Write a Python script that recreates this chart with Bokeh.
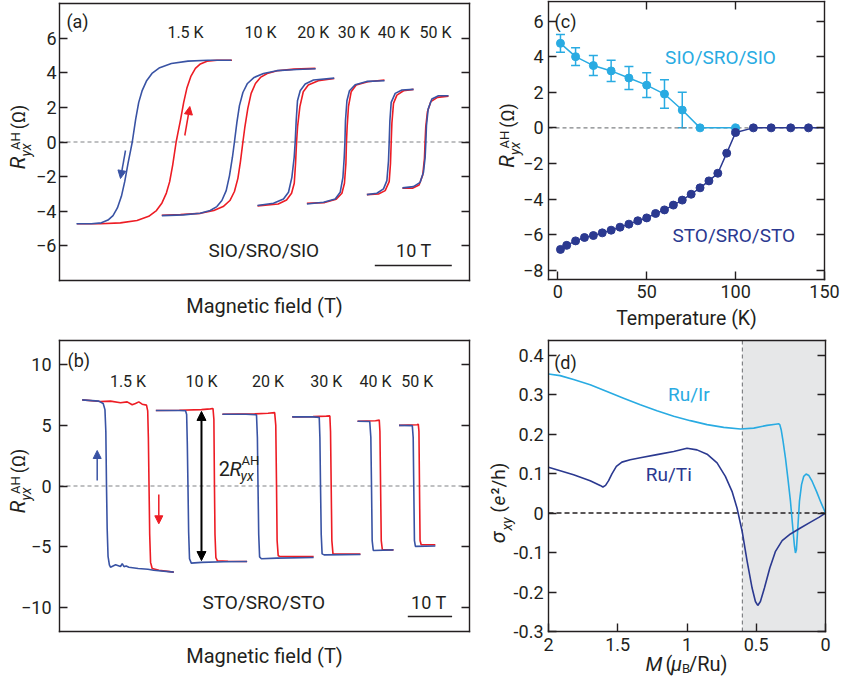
import math
from bokeh.plotting import figure
from bokeh.models import (Range1d, LinearAxis, FixedTicker, Label, Arrow, NormalHead,
                          TeeHead, Whisker, ColumnDataSource, CustomLabelingPolicy)
from bokeh.layouts import row, column
from bokeh.embed import file_html
from bokeh.resources import INLINE

FONT = "Roboto"
INK = "#231f20"
RED = "#ed1c24"
BLUE = "#3953a4"
CYAN = "#29abe2"
NAVY = "#2b3990"
DASH_GREY = "#808285"
SHADE = "#e6e7e8"

TEMP_LABELS = ["1.5 K", "10 K", "20 K", "30 K", "40 K", "50 K"]

# ---------------- (a) SIO/SRO/SIO anomalous Hall loops ----------------
# field-down branch of each loop; field is relative to the loop centre (T)
A_CENTERS = [12.3, 23.27, 30.7, 37.17, 42.95, 47.53]
A_H = [
    [-10.1, -8.16, -6.86, -6.0, -5.35, -4.78, -4.26, -3.83, -3.4, -3.05, -2.85,
     -2.4, -2.01, -1.58, -1.01, -0.29, 0.71, 2.23, 4.39, 6.99, 10.03],
    [-9.97, -7.17, -5.0, -3.7, -2.83, -2.18, -1.62, -1.19, -0.81, -0.55, -0.23,
     0.1, 0.55, 1.14, 2.01, 3.22, 4.96, 7.56, 10.0],
    [-4.99, -2.91, -1.61, -0.96, -0.52, -0.22, -0.09, 0.04, 0.21, 0.56, 1.21, 2.29, 4.98],
    [-5.04, -2.88, -1.36, -0.71, -0.36, -0.19, -0.1, -0.03, 0.16, 0.49, 1.23, 2.74, 5.04],
    [-3.03, -1.73, -0.87, -0.43, -0.22, -0.13, -0.04, 0.13, 0.65, 1.52, 3.03],
    [-2.99, -1.56, -0.69, -0.26, -0.04, 0.05, 0.13, 0.35, 0.83, 1.69, 2.99],
]
A_R = [
    [-4.72, -4.72, -4.67, -4.51, -4.25, -3.81, -3.14, -2.29, -1.24, -0.45, 0.0,
     1.33, 2.29, 2.95, 3.52, 3.96, 4.29, 4.53, 4.67, 4.72, 4.72],
    [-4.25, -4.21, -4.12, -3.96, -3.73, -3.38, -2.81, -1.94, -0.88, 0.0, 1.13,
     2.1, 2.86, 3.38, 3.73, 3.96, 4.12, 4.19, 4.23],
    [-3.67, -3.54, -3.29, -2.9, -2.04, -0.88, 0.0, 1.23, 2.38, 2.96, 3.35, 3.58, 3.69],
    [-3.58, -3.48, -3.29, -2.9, -2.04, -0.88, 0.0, 1.23, 2.38, 2.96, 3.31, 3.5, 3.54],
    [-3.04, -2.96, -2.71, -2.23, -1.08, 0.0, 1.23, 2.29, 2.81, 3.0, 3.04],
    [-2.65, -2.58, -2.33, -1.75, -0.88, 0.0, 0.94, 1.9, 2.48, 2.67, 2.67],
]

# ---------------- (b) STO/SRO/STO anomalous Hall loops ----------------
B_CENTERS = [15.46, 32.05, 47.07, 60.23, 71.33, 80.74]
B_BLUE_H = [
    [-10.34, -6.6, -5.6, -5.2, -5.0, -4.85, -4.7, -4.5, -4.2, -3.95, -2.8, -1.69,
     -1.3, -0.9, -0.4, 0.2, 2.3, 4.5, 5.8, 10.34],
    [-10.3, -5.0, -3.6, -3.35, -3.2, -3.05, -2.9, -2.7, -2.3, 0.0, 5.0, 10.3],
    [-10.3, -5.0, -2.6, -2.4, -2.26, -2.1, -1.9, -1.5, 2.0, 10.3],
    [-7.7, -3.0, -1.6, -1.45, -1.31, -1.15, -0.95, -0.5, 7.7],
    [-4.06, -1.3, -1.05, -0.9, -0.75, -0.5, 4.06],
    [-4.1, -1.1, -0.9, -0.77, -0.62, -0.4, 4.1],
]
B_BLUE_R = [
    [7.1, 7.0, 6.8, 6.3, 4.5, 0.0, -3.5, -5.8, -6.5, -6.7, -6.5, -6.64,
     -6.4, -6.65, -6.6, -6.7, -6.8, -6.86, -6.95, -7.1],
    [6.23, 6.23, 6.2, 5.9, 3.5, 0.0, -3.8, -6.0, -6.36, -6.3, -6.25, -6.23],
    [5.92, 5.92, 5.88, 4.0, 0.0, -4.0, -5.85, -6.0, -5.95, -5.9],
    [5.7, 5.7, 5.66, 4.0, 0.0, -4.0, -5.6, -5.68, -5.65],
    [5.34, 5.32, 4.0, 0.0, -4.5, -5.32, -5.27],
    [5.0, 4.98, 4.0, 0.0, -4.5, -4.98, -4.95],
]
B_RED_H = [
    [-10.34, -6.2, -3.95, -1.69, -0.18, 0.95, 1.69, 2.44, 3.2, 4.18, 4.45, 4.6,
     4.75, 4.9, 5.1, 5.46, 7.0, 10.34],
    [-10.3, -5.0, 0.0, 2.0, 2.6, 2.8, 2.93, 3.05, 3.25, 3.6, 6.0, 10.3],
    [-10.3, -3.0, 0.0, 1.5, 1.75, 1.92, 2.05, 2.3, 2.6, 10.3],
    [-7.7, -3.0, 0.0, 0.8, 0.95, 1.1, 1.25, 1.5, 7.7],
    [-4.06, 0.0, 0.85, 1.0, 1.15, 1.3, 1.55, 4.06],
    [-4.1, 0.0, 0.25, 0.4, 0.52, 0.65, 0.9, 4.1],
]
B_RED_R = [
    [7.1, 6.97, 7.0, 6.86, 6.94, 6.7, 6.8, 6.94, 6.75, 6.67, 6.2, 4.0,
     0.0, -4.0, -6.3, -6.8, -6.95, -7.1],
    [6.23, 6.25, 6.3, 6.36, 6.39, 5.5, 0.0, -4.0, -5.9, -6.17, -6.2, -6.23],
    [5.92, 5.95, 6.0, 6.05, 5.0, 0.0, -4.5, -5.75, -5.8, -5.82],
    [5.7, 5.72, 5.76, 5.78, 4.5, 0.0, -4.5, -5.6, -5.62],
    [5.34, 5.38, 5.43, 4.5, 0.0, -4.5, -5.27, -5.27],
    [5.0, 5.05, 5.1, 4.5, 0.0, -4.5, -4.85, -4.85],
]
B_RAH_10K = 6.15  # half height of the 10 K loop, shown by the 2R arrow

# ---------------- (c) R_AH versus temperature ----------------
SIO_T = [1.5, 10, 20, 30, 40, 50, 60, 70, 80, 100]
SIO_R = [4.75, 4.0, 3.5, 3.2, 2.8, 2.4, 1.9, 1.0, 0.0, 0.0]
SIO_ERR = [0.5, 0.5, 0.56, 0.6, 0.65, 0.7, 0.8, 1.0, 0.0, 0.0]
STO_T = [1.5, 5, 10, 15, 20, 25, 30, 35, 40, 45, 50, 55, 60, 65, 70, 75, 80,
         85, 90, 95, 100, 110, 120, 131, 141]
STO_R = [-6.83, -6.6, -6.35, -6.16, -6.05, -5.9, -5.75, -5.58, -5.41, -5.22,
         -5.06, -4.81, -4.61, -4.34, -4.06, -3.73, -3.37, -2.98, -2.55, -1.42,
         -0.26, 0.0, 0.0, 0.0, 0.0]

# ---------------- (d) calculated sigma_xy versus moment ----------------
IR_M = [2.0, 1.916, 1.819, 1.699, 1.578, 1.458, 1.337, 1.217, 1.096, 0.976,
        0.855, 0.735, 0.614, 0.518, 0.422, 0.361, 0.337, 0.330, 0.320, 0.306,
        0.289, 0.272, 0.253, 0.236, 0.224, 0.217, 0.210, 0.200, 0.188, 0.173,
        0.157, 0.140, 0.120, 0.096, 0.065, 0.031, 0.0]
IR_S = [0.352, 0.348, 0.338, 0.325, 0.308, 0.291, 0.274, 0.259, 0.245, 0.234,
        0.224, 0.217, 0.213, 0.215, 0.222, 0.225, 0.226, 0.224, 0.211, 0.181,
        0.139, 0.089, 0.030, -0.038, -0.084, -0.101, -0.093, -0.038, 0.030, 0.072,
        0.093, 0.099, 0.095, 0.080, 0.055, 0.025, 0.0]
TI_M = [2.0, 1.819, 1.699, 1.627, 1.607, 1.588, 1.566, 1.542, 1.51, 1.47, 1.41,
        1.337, 1.217, 1.096, 1.0, 0.928, 0.855, 0.783, 0.723, 0.675, 0.639,
        0.602, 0.566, 0.530, 0.506, 0.489, 0.470, 0.441, 0.402, 0.361, 0.313,
        0.253, 0.181, 0.108, 0.048, 0.0]
TI_S = [0.116, 0.097, 0.082, 0.070, 0.066, 0.070, 0.082, 0.099, 0.118, 0.129,
        0.135, 0.140, 0.148, 0.156, 0.164, 0.160, 0.149, 0.127, 0.093, 0.055,
        0.013, -0.046, -0.122, -0.190, -0.224, -0.234, -0.224, -0.190, -0.139,
        -0.097, -0.070, -0.053, -0.038, -0.023, -0.011, 0.0]
D_SHADE_FROM = 0.6

NO_LABELS = "for (const i of indices) indices.unset(i)"


class Geo:
    """A panel: canvas placed at (ox, oy) on the page, plot box given in page pixels,
    and the data limits of that box."""
    def __init__(self, ox, oy, W, H, box, xr, yr):
        self.ox, self.oy, self.W, self.H = ox, oy, W, H
        self.l, self.t, self.w, self.h = box
        self.x0, self.x1 = xr
        self.y0, self.y1 = yr

    def x(self, px):
        return self.x0 + (px - self.l) / self.w * (self.x1 - self.x0)

    def y(self, py):
        return self.y1 - (py - self.t) / self.h * (self.y1 - self.y0)


def make_panel(g):
    p = figure(width=g.W, height=g.H,
               x_range=Range1d(g.x(g.ox), g.x(g.ox + g.W)),
               y_range=Range1d(g.y(g.oy + g.H), g.y(g.oy)),
               x_axis_type=None, y_axis_type=None, toolbar_location=None,
               output_backend="svg", min_border=0, min_border_left=0,
               min_border_right=0, min_border_top=0, min_border_bottom=0)
    p.outline_line_color = None
    p.background_fill_color = "white"
    p.border_fill_color = "white"
    return p


def box_axis(p, g, side, ticks, labels=True, standoff=4, overrides=None):
    ax = LinearAxis(ticker=FixedTicker(ticks=ticks))
    if side in ("left", "right"):
        ax.fixed_location = g.x0 if side == "left" else g.x1
        ax.bounds = (min(g.y0, g.y1), max(g.y0, g.y1))
    else:
        ax.fixed_location = g.y0 if side == "below" else g.y1
        ax.bounds = (min(g.x0, g.x1), max(g.x0, g.x1))
    ax.axis_line_color = INK
    ax.axis_line_width = 1.4
    ax.axis_line_cap = "square"
    ax.major_tick_in = 8
    ax.major_tick_out = 0
    ax.major_tick_line_color = INK
    ax.major_tick_line_width = 1.4
    ax.minor_tick_line_color = None
    if labels:
        ax.major_label_text_font = FONT
        ax.major_label_text_font_size = "18px"
        ax.major_label_text_color = INK
        ax.major_label_standoff = standoff
        if overrides:
            ax.major_label_overrides = overrides
    else:
        ax.major_label_policy = CustomLabelingPolicy(code=NO_LABELS)
    p.add_layout(ax, side)


def put(p, g, px, py, text, size, color=INK, italic=False, angle=0.0, align="center"):
    p.add_layout(Label(x=g.x(px), y=g.y(py), text=text, text_font=FONT,
                       text_font_size=f"{size}px", text_color=color,
                       text_font_style="italic" if italic else "normal",
                       angle=angle, text_align=align, text_baseline="middle"))


def hall_ylabel(p, g, fl, fc):
    # R^AH_yx (Ω), written bottom-to-top beside the box
    up = math.pi / 2
    put(p, g, fl - 41.8, fc + 21.0, "R", 21, italic=True, angle=up)
    put(p, g, fl - 34.0, fc + 8.0, "yx", 14, italic=True, angle=up)
    put(p, g, fl - 44.0, fc - 1.0, "AH", 13, angle=up)
    put(p, g, fl - 41.5, fc - 25.0, "(Ω)", 18, angle=up)


def zero_line(p, g, color=DASH_GREY, dash="4 3", width=1.2):
    p.line([g.x0, g.x1], [0, 0], line_color=color, line_dash=dash, line_width=width)


def arrow(p, g, p0, p1, color, size=8, width=1.5):
    p.add_layout(Arrow(x_start=g.x(p0[0]), y_start=g.y(p0[1]),
                       x_end=g.x(p1[0]), y_end=g.y(p1[1]),
                       end=NormalHead(size=size, fill_color=color, line_color=color,
                                      line_width=1),
                       line_color=color, line_width=width))


# ================= panel (a) =================
ga = Geo(0, 0, 480, 330, (59, 3, 410, 277), (0, 53.25), (-8, 8))
pa = make_panel(ga)
a_ticks = [-6, -4, -2, 0, 2, 4, 6]
box_axis(pa, ga, "left", a_ticks, standoff=3)
box_axis(pa, ga, "right", a_ticks, labels=False)
box_axis(pa, ga, "below", [], labels=False)
box_axis(pa, ga, "above", [], labels=False)
zero_line(pa, ga)
for c, hs, rs in zip(A_CENTERS, A_H, A_R):
    # field-up branch is the point reflection of the field-down branch
    pa.line([c - h for h in hs[::-1]], [-r for r in rs[::-1]], line_color=RED, line_width=1.6)
    pa.line([c + h for h in hs], rs, line_color=BLUE, line_width=1.6)
for lab, px in zip(TEMP_LABELS, [185, 260, 312.7, 353.3, 393.3, 435]):
    put(pa, ga, px, 32, lab, 16)
put(pa, ga, 77, 21, "(a)", 18)
put(pa, ga, 263.3, 250, "SIO/SRO/SIO", 19)
put(pa, ga, 413.3, 250, "10 T", 18)
a_bar = ga.x(374.3)
pa.line([a_bar, a_bar + 10], [ga.y(265)] * 2, line_color=INK, line_width=1.5)
arrow(pa, ga, (125, 150), (120, 178), BLUE)
arrow(pa, ga, (184.3, 135), (189.3, 106), RED)
hall_ylabel(pa, ga, 59, 141.5)
put(pa, ga, 264, 305, "Magnetic field (T)", 20)

# ================= panel (c) =================
gc = Geo(480, 0, 361, 330, (548, 1, 276, 278), (-5.23, 150), (-8.52, 7.1))
pc = make_panel(gc)
c_y_ticks = [-8, -6, -4, -2, 0, 2, 4, 6]
box_axis(pc, gc, "left", c_y_ticks, standoff=5)
box_axis(pc, gc, "right", c_y_ticks, labels=False)
box_axis(pc, gc, "below", [0, 50, 100, 150], standoff=5)
box_axis(pc, gc, "above", [50, 100], labels=False)
zero_line(pc, gc)
err_src = ColumnDataSource(dict(
    t=[t for t, e in zip(SIO_T, SIO_ERR) if e > 0],
    lo=[r - e for r, e in zip(SIO_R, SIO_ERR) if e > 0],
    hi=[r + e for r, e in zip(SIO_R, SIO_ERR) if e > 0]))
pc.add_layout(Whisker(source=err_src, base="t", lower="lo", upper="hi",
                      line_color=CYAN, line_width=1.5,
                      upper_head=TeeHead(size=9, line_color=CYAN, line_width=1.5),
                      lower_head=TeeHead(size=9, line_color=CYAN, line_width=1.5)))
pc.line(SIO_T, SIO_R, line_color=CYAN, line_width=1.5)
pc.scatter(SIO_T, SIO_R, size=8, fill_color=CYAN, line_color=CYAN)
pc.line(STO_T + [gc.x1], STO_R + [0.0], line_color=NAVY, line_width=1.5)
pc.scatter(STO_T, STO_R, size=8, fill_color=NAVY, line_color=NAVY)
put(pc, gc, 565, 20.7, "(c)", 18)
put(pc, gc, 720, 56.7, "SIO/SRO/SIO", 19, color=CYAN)
put(pc, gc, 733.3, 235, "STO/SRO/STO", 19, color=NAVY)
hall_ylabel(pc, gc, 548, 140)
put(pc, gc, 686, 317.5, "Temperature (K)", 19.5)

# ================= panel (b) =================
gb = Geo(0, 330, 480, 349, (59, 340, 410, 291), (0, 92.55), (-12, 12))
pb = make_panel(gb)
b_ticks = [-10, -5, 0, 5, 10]
box_axis(pb, gb, "left", b_ticks, standoff=8)
box_axis(pb, gb, "right", b_ticks, labels=False)
box_axis(pb, gb, "below", [], labels=False)
box_axis(pb, gb, "above", [], labels=False)
zero_line(pb, gb)
for c, hr, rr, hb, rb in zip(B_CENTERS, B_RED_H, B_RED_R, B_BLUE_H, B_BLUE_R):
    pb.line([c + h for h in hr], rr, line_color=RED, line_width=1.6)
    pb.line([c + h for h in hb], rb, line_color=BLUE, line_width=1.6)
for lab, c in zip(TEMP_LABELS, B_CENTERS):
    pb.add_layout(Label(x=c, y=gb.y(380.7), text=lab, text_font=FONT,
                        text_font_size="16px", text_color=INK,
                        text_align="center", text_baseline="middle"))
pb.add_layout(Arrow(x_start=B_CENTERS[1], y_start=-B_RAH_10K,
                    x_end=B_CENTERS[1], y_end=B_RAH_10K, line_color="black", line_width=2,
                    end=NormalHead(size=9, fill_color="black", line_color="black"),
                    start=NormalHead(size=9, fill_color="black", line_color="black")))
put(pb, gb, 218.3, 468.3, "2", 20, align="left")
put(pb, gb, 229.0, 468.3, "R", 20, italic=True, align="left")
put(pb, gb, 240.0, 475.5, "yx", 14, italic=True, align="left")
put(pb, gb, 241.0, 459.5, "AH", 13, align="left")
arrow(pb, gb, (96.7, 480), (96.7, 450), BLUE)
arrow(pb, gb, (158.3, 494), (158.3, 523.3), RED)
put(pb, gb, 78.3, 360, "(b)", 18)
put(pb, gb, 263.3, 601.7, "STO/SRO/STO", 19)
put(pb, gb, 428.3, 601.7, "10 T", 18)
b_bar = gb.x(407.3)
pb.line([b_bar, b_bar + 10], [gb.y(616)] * 2, line_color=INK, line_width=1.5)
hall_ylabel(pb, gb, 59, 485.5)
put(pb, gb, 264, 655, "Magnetic field (T)", 20)

# ================= panel (d) =================
gd = Geo(480, 330, 361, 349, (548, 340, 277, 291), (2, 0), (-0.3, 0.437))
pd = make_panel(gd)
d_y_ticks = [-0.3, -0.2, -0.1, 0, 0.1, 0.2, 0.3, 0.4]
d_y_text = ["-0.3", "-0.2", "-0.1", "0", "0.1", "0.2", "0.3", "0.4"]
d_x_ticks = [2, 1.5, 1, 0.5, 0]
d_x_text = ["2", "1.5", "1", "0.5", "0"]
pd.varea(x=[D_SHADE_FROM, 0.0], y1=[gd.y0] * 2, y2=[gd.y1] * 2, fill_color=SHADE)
pd.line([D_SHADE_FROM] * 2, [gd.y0, gd.y1], line_color=DASH_GREY, line_dash="4 3",
        line_width=1.2)
zero_line(pd, gd, color=INK, dash="5 3", width=1.4)
box_axis(pd, gd, "left", d_y_ticks, standoff=5, overrides=dict(zip(d_y_ticks, d_y_text)))
box_axis(pd, gd, "right", d_y_ticks, labels=False)
box_axis(pd, gd, "below", d_x_ticks, standoff=6, overrides=dict(zip(d_x_ticks, d_x_text)))
box_axis(pd, gd, "above", [], labels=False)
pd.line(IR_M, IR_S, line_color=CYAN, line_width=1.6)
pd.line(TI_M, TI_S, line_color=NAVY, line_width=1.6)
put(pd, gd, 565, 361.7, "(d)", 18)
put(pd, gd, 688.3, 394, "Ru/Ir", 19, color=CYAN)
put(pd, gd, 668.3, 474, "Ru/Ti", 19, color=NAVY)
up = math.pi / 2
put(pd, gd, 497.5, 537, "σ", 21, italic=True, angle=up)
put(pd, gd, 506.7, 523.5, "xy", 14, italic=True, angle=up)
put(pd, gd, 497.5, 509, "(", 19, angle=up)
put(pd, gd, 497.5, 500, "e", 19, italic=True, angle=up)
put(pd, gd, 497.5, 494, "²/h)", 19, angle=up, align="left")
put(pd, gd, 645.0, 663.3, "M", 20, italic=True, align="left")
put(pd, gd, 665.0, 663.3, "(", 20, align="left")
put(pd, gd, 670.5, 663.3, "μ", 20, italic=True, align="left")
put(pd, gd, 681.5, 668.0, "B", 13, align="left")
put(pd, gd, 688.5, 663.3, "/Ru)", 20, align="left")

layout = column(row(pa, pc), row(pb, pd))
open("out.html", "w").write(file_html(layout, INLINE, "Anomalous Hall effect"))
